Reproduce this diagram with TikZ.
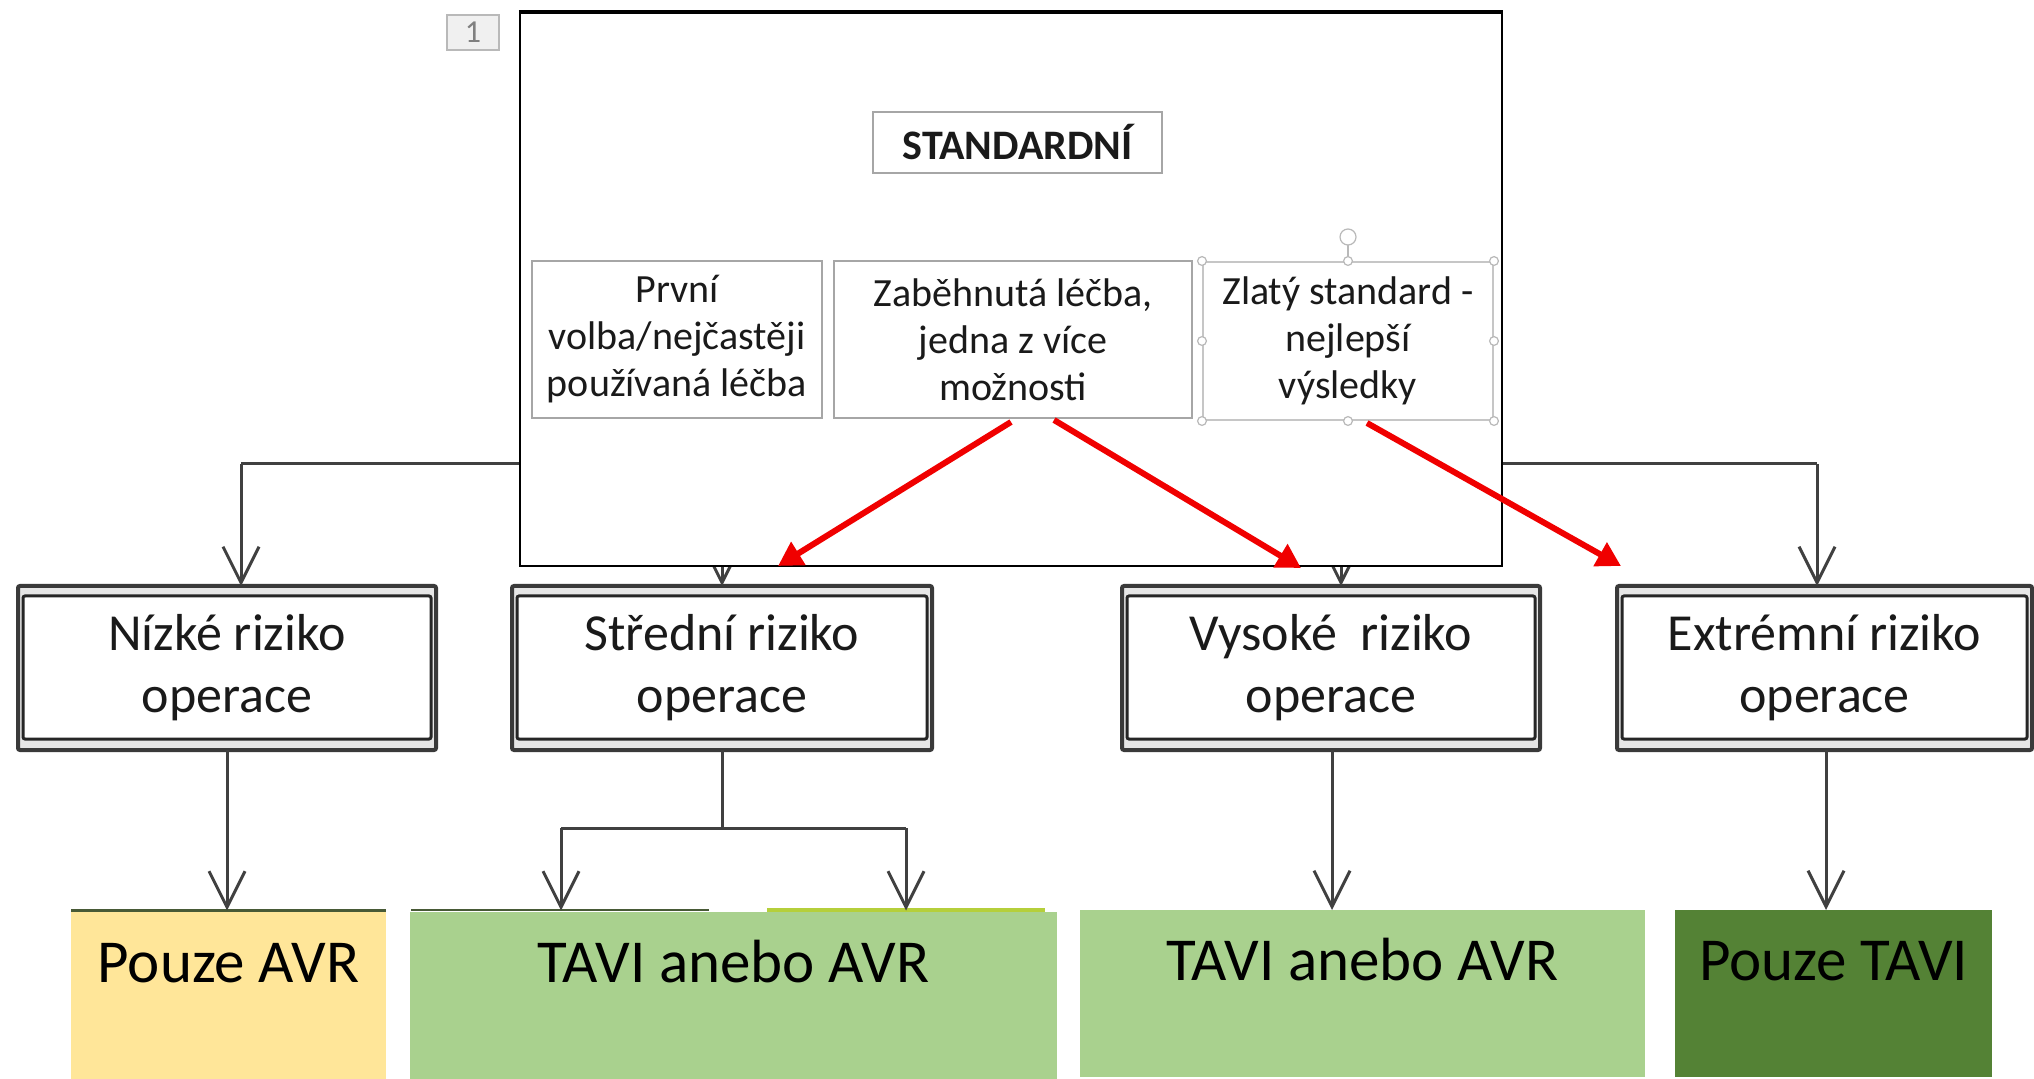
\documentclass[tikz,border=0pt]{standalone}
\usepackage{fontspec}
\setmainfont{Carlito}
\usetikzlibrary{arrows.meta}
\definecolor{connc}{HTML}{404040}
\definecolor{redc}{HTML}{F00000}
\definecolor{riskline}{HTML}{3A3A3A}
\definecolor{innerc}{HTML}{262626}
\definecolor{band}{HTML}{E6E6E6}
\definecolor{avrfill}{HTML}{FFE699}
\definecolor{greenfill}{HTML}{A9D18E}
\definecolor{darkgreen}{HTML}{548235}
\definecolor{segdark}{HTML}{485A36}
\definecolor{segyellow}{HTML}{B5CF3B}
\definecolor{boxgray}{HTML}{A6A6A6}
\definecolor{txt}{HTML}{1A1A1A}
\begin{document}
\begin{tikzpicture}[x=0.5pt,y=-0.5pt,
  conn/.style={draw=connc, line width=1.5pt, -{Straight Barb[length=18pt,width=18pt]}},
  busline/.style={draw=connc, line width=1.5pt},
  redarrow/.style={draw=redc, line width=3pt, -{Triangle[length=12pt,width=13pt]}},
  riskbox/.style={draw=riskline, line width=2pt, fill=band, rounded corners=1pt,
    minimum height=82pt, outer sep=0pt, inner sep=0pt, align=center, text=txt,
    font=\fontsize{26}{31}\selectfont,
    path picture={
      \fill[white] ([shift={(5,10)}]path picture bounding box.north west) rectangle ([shift={(-5,-11)}]path picture bounding box.south east);
      \draw[draw=innerc, line width=1.5pt] ([shift={(5,10)}]path picture bounding box.north west) rectangle ([shift={(-5,-11)}]path picture bounding box.south east);
    }},
  smallbox/.style={draw=boxgray, line width=1pt, fill=white, minimum height=78.5pt,
    inner sep=0pt, align=center, text=txt, font=\fontsize{20}{23.5}\selectfont},
  outcome/.style={inner sep=0pt, outer sep=0pt, minimum height=84pt},
  outtext/.style={anchor=base, text=black, font=\fontsize{30.5}{35}\selectfont},
  handle/.style={draw=gray!55, fill=white, line width=0.6pt}
]
\useasboundingbox (0,0) rectangle (2034,1079);

% risk boxes
\node[riskbox, minimum width=209pt] (nizke) at (227,668) {Nízké riziko\\operace};
\node[riskbox, minimum width=210pt] (stredni) at (722,668) {Střední riziko\\operace};
\node[riskbox, minimum width=209pt] (vysoke) at (1331,668) {Vysoké\ \ riziko\\operace};
\node[riskbox, minimum width=207.5pt] (extremni) at (1824.5,668) {Extrémní riziko\\operace};

% outcome boxes
\node[outcome, fill=avrfill, minimum width=157.5pt] (avr) at (228.5,994.5) {};
\node[outcome, fill=greenfill, minimum width=323.5pt, minimum height=83.5pt] (tavia) at (733.5,995.5) {};
\node[outcome, fill=greenfill, minimum width=282.5pt, minimum height=83.5pt] (tavib) at (1362.5,993.5) {};
\node[outcome, fill=darkgreen, minimum width=158.5pt, minimum height=83.5pt] (tavi) at (1833.5,993.5) {};
\draw[draw=segdark, line width=1.2pt] (avr.north west) -- (avr.north east);
\coordinate (s1a) at (411,910); \coordinate (s1b) at (709,910);
\coordinate (s2a) at (767,910); \coordinate (s2b) at (1045,910);
\draw[draw=segdark, line width=1.4pt] (s1a) -- (s1b);
\draw[draw=segyellow, line width=1.6pt] (s2a) -- (s2b);
\node[outtext] (avrt) at (228.5,982) {Pouze AVR};
\node[outtext] (taviat) at (733.5,982) {TAVI anebo AVR};
\node[outtext] (tavibt) at (1362.5,980) {TAVI anebo AVR};
\node[outtext] (tavit) at (1833.5,980) {Pouze TAVI};

% upper bus and drops
\coordinate (busL) at (241,464);
\coordinate (busM1) at (722,464);
\coordinate (busM2) at (1341,464);
\coordinate (busR) at (1817,464);
\draw[busline] (busL) -- (busR);
\draw[conn] (busL) -- (busL |- nizke.north);
\draw[conn] (busM1) -- (stredni.north);
\draw[conn] (busM2) -- (busM2 |- vysoke.north);
\draw[conn] (busR) -- (busR |- extremni.north);

% lower connectors
\draw[conn] (nizke.south) -- (nizke.south |- avr.north);
\coordinate (split) at (722,828);
\coordinate (splitL) at (561,828);
\coordinate (splitR) at (906,828);
\draw[busline] (stredni.south) -- (split);
\draw[busline] (splitL) -- (splitR);
\draw[conn] (splitL) -- (splitL |- avr.north);
\draw[conn] (splitR) -- (splitR |- avr.north);
\coordinate (vdrop) at (1332,750);
\coordinate (edrop) at (1826,750);
\draw[conn] (vdrop) -- (vdrop |- tavib.north);
\draw[conn] (edrop) -- (edrop |- tavi.north);

% big overlay box
\node[draw=black, line width=1.2pt, fill=white, minimum width=491pt, minimum height=276.5pt, inner sep=0pt] (big) at (1011,289.5) {};
\draw[black, line width=1.4pt] (big.north west) -- (big.north east);
\node[draw=gray!55, fill=gray!12, line width=0.8pt, minimum width=26pt, minimum height=17.5pt, inner sep=0pt, text=gray, font=\fontsize{16}{18}\selectfont] (num) at (473,32.5) {1};
\node[draw=boxgray, line width=1pt, fill=white, minimum width=144.5pt, minimum height=30.5pt, inner sep=0pt, text=txt, font=\bfseries\fontsize{21}{25}\selectfont] (std) at (1017.5,142.5) {STANDARDNÍ};
\node[smallbox, minimum width=145pt] (b1) at (677,339.5) {První\\volba/nejčastěji\\používaná léčba};
\node[smallbox, minimum width=179pt] (b2) at (1013,339.5) {Zaběhnutá léčba,\\jedna z více\\možnosti};
\node[smallbox, draw=gray!45, minimum width=145pt, minimum height=79pt] (b3) at (1348,341) {Zlatý standard -\\nejlepší\\výsledky};
% selection handles
\coordinate (rot) at ([shift={(0,-24)}]b3.north);
\draw[handle] (b3.north) -- (rot);
\draw[handle] (rot) circle[radius=4pt];
\foreach \p in {north west,north,north east,east,south east,south,south west,west}
  \draw[handle] (b3.\p) circle[radius=2.2pt];

% red arrows
\coordinate (r1s) at (1011,422); \coordinate (r1e) at (778,566);
\coordinate (r2s) at (1054,420); \coordinate (r2e) at (1301,568);
\coordinate (r3s) at (1367,423); \coordinate (r3e) at (1621,566);
\draw[redarrow] (r1s) -- (r1e);
\draw[redarrow] (r2s) -- (r2e);
\draw[redarrow] (r3s) -- (r3e);
\end{tikzpicture}
\end{document}
